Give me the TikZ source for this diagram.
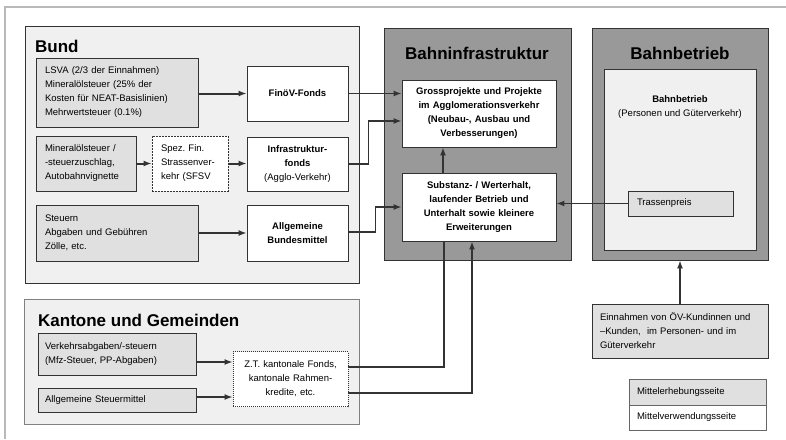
\documentclass[tikz,border=0pt]{standalone}
\usepackage{fontspec}
\setmainfont{Liberation Sans}
\usetikzlibrary{arrows.meta}

\definecolor{panelgray}{gray}{0.94}
\definecolor{srcgray}{gray}{0.88}
\definecolor{infragray}{gray}{0.6}
\definecolor{edgegray}{gray}{0.2}

\begin{document}
\frenchspacing
\begin{tikzpicture}[x=1pt, y=-1pt,
    every node/.style={font=\fontsize{9.5}{14}\selectfont, inner sep=0pt},
    panelbox/.style={draw=edgegray, fill=panelgray, line width=0.8pt},
    srcbox/.style={draw=edgegray, fill=srcgray, line width=0.8pt, align=left},
    fundbox/.style={draw=edgegray, fill=white, line width=0.8pt, align=center},
    boxtitle/.style={font=\fontsize{17}{20}\selectfont\bfseries},
    flow/.style={draw=edgegray, line width=1.5pt, -{Latex[length=8pt,width=6pt]}},
    bigflow/.style={flow, line width=2pt},
]
    \useasboundingbox (0,0) rectangle (786,439);
    \draw[gray!55, line width=1.2pt] (786,7) -- (5,7) -- (5,439);

    % Bund
    \node[panelbox, minimum width=334pt, minimum height=257pt] (bund) at (192,154.5) {};
    \node[boxtitle, anchor=base west] (bundtitle) at (35,52) {Bund};
    \node[srcbox, text width=144pt, inner xsep=9pt, minimum height=69pt] (lsva) at (117,92.5)
        {LSVA (2/3 der Einnahmen)\\Mineralölsteuer (25\% der\\Kosten für NEAT-Basislinien)\\Mehrwertsteuer (0.1\%)};
    \node[fundbox, text width=101pt, minimum height=55pt, font=\fontsize{9.5}{14}\selectfont\bfseries] (finoev) at (297.5,93.5) {FinöV-Fonds};
    \node[srcbox, text width=82pt, inner xsep=9pt, minimum height=55pt] (minoel) at (86,163.5)
        {Mineralölsteuer /\\-steuerzuschlag,\\Autobahnvignette};
    \node[draw=edgegray, fill=white, line width=0.8pt, dash pattern=on 2pt off 1pt, align=left,
        text width=58pt, inner xsep=9pt, minimum height=55pt] (sfsv) at (190,163.5)
        {Spez. Fin.\\Strassenver-\\kehr (SFSV};
    \node[fundbox, text width=101pt, minimum height=54pt] (infra) at (297.5,164)
        {\textbf{Infrastruktur-}\\\textbf{fonds}\\(Agglo-Verkehr)};
    \node[srcbox, text width=144pt, inner xsep=9pt, minimum height=56pt] (steuern) at (117,233)
        {Steuern\\Abgaben und Gebühren\\Zölle, etc.};
    \node[fundbox, text width=101pt, minimum height=56pt, font=\fontsize{9.5}{13.5}\selectfont\bfseries] (bundesmittel) at (297.5,233)
        {Allgemeine\\Bundesmittel};

    % Kantone und Gemeinden
    \node[draw=gray, fill=panelgray, line width=0.8pt, minimum width=335pt, minimum height=125pt] (kantone) at (191.5,361.5) {};
    \node[boxtitle, anchor=base west] (kantonetitle) at (38,326) {Kantone und Gemeinden};
    \node[srcbox, text width=144pt, inner xsep=7pt, minimum height=42pt] (verkehr) at (117,354)
        {Verkehrsabgaben/-steuern\\(Mfz-Steuer, PP-Abgaben)};
    \node[srcbox, text width=144pt, inner xsep=7pt, minimum height=24pt] (steuermittel) at (117,400)
        {Allgemeine Steuermittel};
    \node[draw=edgegray, fill=white, line width=0.8pt, dash pattern=on 1pt off 1pt, align=center,
        text width=115pt, minimum height=55pt] (zt) at (290.5,379)
        {Z.T. kantonale Fonds,\\kantonale Rahmen-\\kredite, etc.};

    % Bahninfrastruktur
    \node[draw=edgegray, fill=infragray, line width=0.8pt, minimum width=187pt, minimum height=232pt] (binfra) at (477.5,144) {};
    \node[boxtitle, anchor=base] (binfratitle) at (477,59) {Bahninfrastruktur};
    \node[fundbox, text width=154pt, minimum height=67pt, font=\fontsize{9.5}{14}\selectfont\bfseries] (gp) at (479,113.5)
        {Grossprojekte und Projekte\\im Agglomerationsverkehr\\(Neubau-, Ausbau und\\Verbesserungen)};
    \node[fundbox, text width=154pt, minimum height=68pt, font=\fontsize{9.5}{14}\selectfont\bfseries] (sub) at (479,207)
        {Substanz- / Werterhalt,\\laufender Betrieb und\\Unterhalt sowie kleinere\\Erweiterungen};

    % Bahnbetrieb
    \node[draw=edgegray, fill=infragray, line width=0.8pt, minimum width=176pt, minimum height=232pt] (bbetrieb) at (680,144) {};
    \node[boxtitle, anchor=base] (bbetriebtitle) at (680,59) {Bahnbetrieb};
    \node[panelbox, minimum width=152pt, minimum height=181pt] (bbinner) at (680,159.5) {};
    \node[align=center] (bbtext) at (680,107.5) {\textbf{Bahnbetrieb}\\(Personen und Güterverkehr)};
    \node[srcbox, text width=87pt, inner xsep=9pt, minimum height=25pt] (trasse) at (680.5,203.5) {Trassenpreis};
    \node[srcbox, text width=160pt, inner xsep=8pt, minimum height=54pt] (einnahmen) at (680,331)
        {Einnahmen von ÖV-Kundinnen und\\\textendash Kunden,\ \ im Personen- und im\\Güterverkehr};

    % Legende
    \node[srcbox, draw=gray!80!black, text width=121pt, inner xsep=8pt, minimum height=26pt] (leg1) at (697.5,392) {Mittelerhebungsseite};
    \node[srcbox, draw=gray!80!black, fill=white, text width=121pt, inner xsep=8pt, minimum height=25pt] (leg2) at (697.5,417.5) {Mittelverwendungsseite};

    % Fluesse
    \draw[bigflow] (lsva.east |- finoev.west) -- (finoev.west);
    \draw[bigflow] (minoel.east) -- (sfsv.west);
    \draw[bigflow] (sfsv.east) -- (sfsv.east -| infra.west);
    \draw[bigflow] (steuern.east) -- (bundesmittel.west);
    \draw[flow] (finoev.east) -- (finoev.east -| gp.west);
    \draw[flow] (infra.east) -- ++(20,0) |- ([yshift=-7.5pt]gp.west);
    \draw[flow] ([yshift=1pt]bundesmittel.east) -- ++(27,0) |- (sub.west);
    \draw[flow] ([xshift=-36pt]sub.north) -- ([xshift=-36pt]gp.south);
    \draw[flow] (trasse.west) -- (trasse.west -| sub.east);
    \draw[bigflow] (einnahmen.north) -- (bbetrieb.south);
    \draw[bigflow] ([yshift=-8pt]verkehr.east) -- ([yshift=-8pt]verkehr.east -| zt.west);
    \draw[bigflow] ([yshift=3pt]steuermittel.east) -- ([yshift=3pt]steuermittel.east -| zt.west);
    \draw[flow, -] ([yshift=12pt]zt.east) -| ([xshift=-35pt]sub.south);
    \draw[flow] ([yshift=-14pt]zt.east) -| ([xshift=-7pt]sub.south);
\end{tikzpicture}
\end{document}
